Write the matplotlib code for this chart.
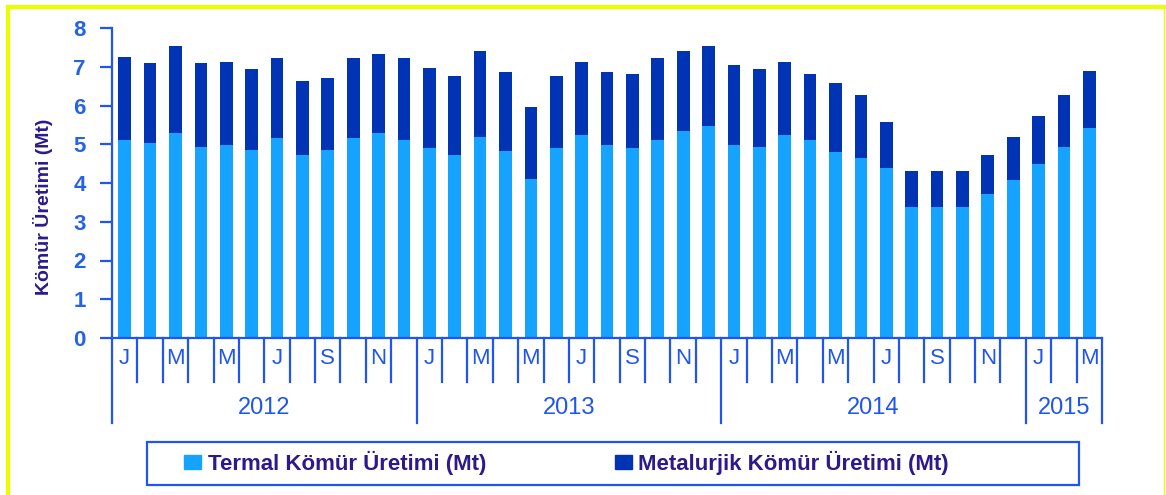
import matplotlib.pyplot as plt
import matplotlib.transforms as mtransforms
from matplotlib.patches import Rectangle
from matplotlib.lines import Line2D
import numpy as np

# data (Mt)
years = ['2012', '2013', '2014', '2015']
months_per_year = [12, 12, 12, 3]
month_letters = ['J', 'F', 'M', 'A', 'M', 'J', 'J', 'A', 'S', 'O', 'N', 'D']
termal = [5.11, 5.02, 5.30, 4.94, 4.98, 4.85, 5.15, 4.71, 4.85, 5.15, 5.30, 5.11,
          4.90, 4.71, 5.20, 4.83, 4.10, 4.90, 5.24, 4.97, 4.90, 5.11, 5.33, 5.47,
          4.97, 4.94, 5.25, 5.10, 4.79, 4.65, 4.39, 3.37, 3.37, 3.37, 3.71, 4.07,
          4.48, 4.94, 5.43]
metalurjik = [2.15, 2.07, 2.24, 2.15, 2.15, 2.10, 2.07, 1.92, 1.87, 2.07, 2.02, 2.11,
              2.08, 2.05, 2.21, 2.03, 1.85, 1.86, 1.89, 1.89, 1.91, 2.11, 2.07, 2.07,
              2.07, 2.01, 1.88, 1.71, 1.79, 1.61, 1.19, 0.94, 0.94, 0.94, 1.01, 1.11,
              1.24, 1.32, 1.47]
legend_labels = ['Termal Kömür Üretimi (Mt)', 'Metalurjik Kömür Üretimi (Mt)']

light = '#16a2ff'
dark = '#0034b5'
axblue = '#1f55f0'
purple = '#2a1a8c'

plt.rcParams['font.family'] = ['Liberation Sans', 'DejaVu Sans']

fig = plt.figure(figsize=(11.66, 4.95), dpi=100)
ax = fig.add_axes([112 / 1166, 1 - 338 / 495, 990 / 1166, 310 / 495])

x = np.arange(len(termal))
ax.bar(x, termal, width=0.5, color=light, zorder=2)
ax.bar(x, metalurjik, width=0.5, bottom=termal, color=dark, zorder=2)

ax.set_xlim(-0.5, len(termal) - 0.5)
ax.set_ylim(0, 8)
ax.set_yticks(range(0, 9))
ax.tick_params(axis='y', direction='out', length=9, width=1.6, color=axblue,
               labelsize=16, labelcolor='#2462e8', pad=10)
for lab in ax.get_yticklabels():
    lab.set_fontweight('bold')
ax.set_xticks([])
for s in ['top', 'right']:
    ax.spines[s].set_visible(False)
for s in ['left', 'bottom']:
    ax.spines[s].set_color(axblue)
    ax.spines[s].set_linewidth(1.6)

ax.set_ylabel('Kömür Üretimi (Mt)', fontweight='bold', fontsize=14, color=purple)
ax.yaxis.set_label_coords(-0.060, 0.423)

# multi level category axis
trans = mtransforms.blended_transform_factory(ax.transData, ax.transAxes)
i = 0
for yr, n in zip(years, months_per_year):
    start = i
    for m in range(n):
        if m % 2 == 0:
            ax.text(i, -0.065, month_letters[m], transform=trans, ha='center', va='center',
                    fontsize=16, color=axblue)
        if m > 0:
            ax.plot([i - 0.5, i - 0.5], [0, -0.142], transform=trans, color=axblue,
                    lw=1.6, clip_on=False)
        i += 1
    ax.plot([start - 0.5, start - 0.5], [0, -0.274], transform=trans, color=axblue,
            lw=1.6, clip_on=False)
    ax.text((start + i - 1) / 2, -0.226, yr, transform=trans, ha='center', va='center',
            fontsize=17, color=axblue)
ax.plot([i - 0.5, i - 0.5], [0, -0.274], transform=trans, color=axblue, lw=1.6, clip_on=False)

# legend
handles = [Rectangle((0, 0), 1, 1, color=light), Rectangle((0, 0), 1, 1, color=dark)]
leg = fig.legend(handles, legend_labels, loc='center', bbox_to_anchor=(0.486, 1 - 463 / 495),
                 ncol=2, frameon=False, handlelength=0.75, handleheight=0.6,
                 handletextpad=0.3, columnspacing=5.8,
                 prop={'weight': 'bold', 'size': 16})
for t in leg.get_texts():
    t.set_color(purple)
fig.patches.append(Rectangle((147 / 1166, 1 - 485 / 495), 932 / 1166, 43 / 495,
                             transform=fig.transFigure, fill=False, edgecolor=axblue, lw=1.6))

# yellow frame
fig.add_artist(Line2D([8 / 1166, 8 / 1166], [0, 1 - 7 / 495], color='#e8ff00', lw=3))
fig.add_artist(Line2D([8 / 1166, 1165 / 1166], [1 - 7 / 495, 1 - 7 / 495], color='#e8ff00', lw=3))
fig.add_artist(Line2D([1164 / 1166, 1164 / 1166], [0, 1 - 7 / 495], color='#e8ff00', lw=1))

fig.savefig('out.png', dpi=100)
